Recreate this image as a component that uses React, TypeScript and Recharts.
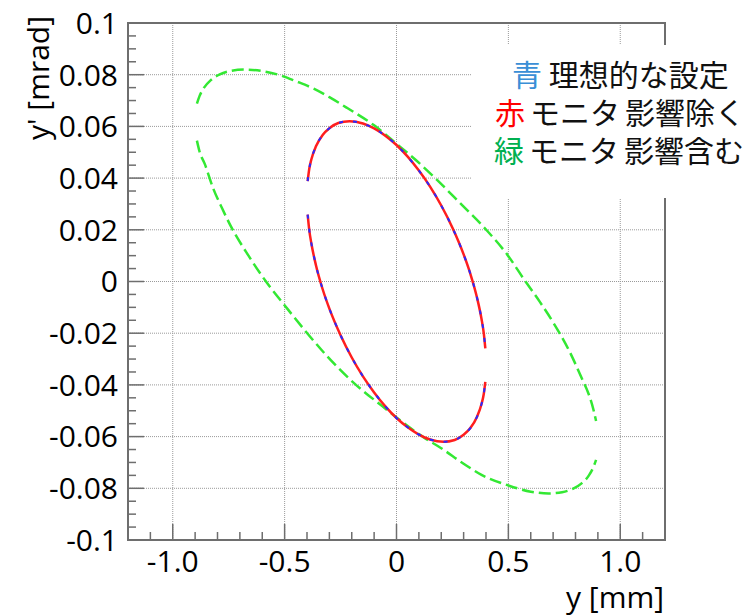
import { LineChart, Line, XAxis, YAxis, CartesianGrid, ReferenceArea } from 'recharts'

// 青: ideal setting, 赤: monitor effect removed (they overlap), 緑: monitor effect included
const redUpperX = [-0.397, -0.39, -0.38, -0.36, -0.33, -0.3, -0.26, -0.21, -0.15, -0.1, -0.05, 0, 0.05, 0.1, 0.15, 0.2, 0.25, 0.3, 0.33, 0.36, 0.38, 0.39, 0.397]
const redUpperY = [0.0388, 0.0435, 0.0474, 0.0523, 0.0567, 0.0593, 0.0613, 0.062, 0.0611, 0.0592, 0.0564, 0.0528, 0.0483, 0.0429, 0.0367, 0.0294, 0.0208, 0.0105, 0.003, -0.0063, -0.0145, -0.02, -0.0259]
const redLowerX = [-0.397, -0.39, -0.38, -0.36, -0.33, -0.3, -0.25, -0.2, -0.15, -0.1, -0.05, 0, 0.05, 0.1, 0.15, 0.21, 0.26, 0.3, 0.33, 0.36, 0.38, 0.39, 0.397]
const redLowerY = [0.0259, 0.02, 0.0145, 0.0063, -0.003, -0.0105, -0.0208, -0.0294, -0.0367, -0.0429, -0.0483, -0.0528, -0.0564, -0.0592, -0.0611, -0.062, -0.0613, -0.0593, -0.0567, -0.0523, -0.0474, -0.0435, -0.0388]
const blueUpperX = [-0.397, -0.39, -0.38, -0.36, -0.33, -0.3, -0.26, -0.21, -0.15, -0.1, -0.05, 0, 0.05, 0.1, 0.15, 0.2, 0.25, 0.3, 0.33, 0.36, 0.38, 0.39, 0.397]
const blueUpperY = [0.0388, 0.0435, 0.0474, 0.0523, 0.0567, 0.0593, 0.0613, 0.062, 0.0611, 0.0592, 0.0564, 0.0528, 0.0483, 0.0429, 0.0367, 0.0294, 0.0208, 0.0105, 0.003, -0.0063, -0.0145, -0.02, -0.0259]
const blueLowerX = [-0.397, -0.39, -0.38, -0.36, -0.33, -0.3, -0.25, -0.2, -0.15, -0.1, -0.05, 0, 0.05, 0.1, 0.15, 0.21, 0.26, 0.3, 0.33, 0.36, 0.38, 0.39, 0.397]
const blueLowerY = [0.0259, 0.02, 0.0145, 0.0063, -0.003, -0.0105, -0.0208, -0.0294, -0.0367, -0.0429, -0.0483, -0.0528, -0.0564, -0.0592, -0.0611, -0.062, -0.0613, -0.0593, -0.0567, -0.0523, -0.0474, -0.0435, -0.0388]
const greenUpperX = [-0.892, -0.88, -0.86, -0.83, -0.79, -0.74, -0.68, -0.6, -0.52, -0.45, -0.37, -0.3, -0.22, -0.1, 0.0, 0.09, 0.18, 0.29, 0.4, 0.5, 0.57, 0.64, 0.7, 0.77, 0.83, 0.86, 0.88, 0.892]
const greenUpperY = [0.0688, 0.0718, 0.075, 0.0779, 0.0801, 0.0815, 0.082, 0.0814, 0.0798, 0.0775, 0.0746, 0.0713, 0.0671, 0.0604, 0.0533, 0.0467, 0.0394, 0.0298, 0.0201, 0.0098, 0.0008, -0.0078, -0.0158, -0.0265, -0.0378, -0.0438, -0.0495, -0.054]
const greenLowerX = [-0.892, -0.88, -0.857, -0.82, -0.78, -0.74, -0.66, -0.58, -0.49, -0.4, -0.31, -0.19, -0.07, 0.0, 0.12, 0.2, 0.3, 0.38, 0.5, 0.6, 0.68, 0.74, 0.79, 0.83, 0.86, 0.88, 0.892]
const greenLowerY = [0.0545, 0.0502, 0.0455, 0.0362, 0.0284, 0.0213, 0.0098, -0.0004, -0.0103, -0.0199, -0.0289, -0.0393, -0.0478, -0.0526, -0.0602, -0.0645, -0.0705, -0.0748, -0.0789, -0.0813, -0.082, -0.0815, -0.0801, -0.0779, -0.075, -0.0718, -0.069]

const xMajorTicks = [-1.0, -0.5, 0, 0.5, 1.0]
const xTickLabels = ['-1.0', '-0.5', '0', '0.5', '1.0']
const xMinorTicks = [-1.1, -1.0, -0.9, -0.8, -0.7, -0.6, -0.5, -0.4, -0.3, -0.2, -0.1, 0, 0.1, 0.2, 0.3, 0.4, 0.5, 0.6, 0.7, 0.8, 0.9, 1.0, 1.1]
const yMajorTicks = [-0.1, -0.08, -0.06, -0.04, -0.02, 0, 0.02, 0.04, 0.06, 0.08, 0.1]
const yTickLabels = ['-0.1', '-0.08', '-0.06', '-0.04', '-0.02', '0', '0.02', '0.04', '0.06', '0.08', '0.1']
const yMinorTicks = [
  -0.1, -0.095, -0.09, -0.085, -0.08, -0.075, -0.07, -0.065, -0.06, -0.055, -0.05, -0.045, -0.04, -0.035, -0.03, -0.025, -0.02, -0.015, -0.01, -0.005,
  0, 0.005, 0.01, 0.015, 0.02, 0.025, 0.03, 0.035, 0.04, 0.045, 0.05, 0.055, 0.06, 0.065, 0.07, 0.075, 0.08, 0.085, 0.09, 0.095, 0.1,
]

const pts = (xs: number[], ys: number[]) => xs.map((x, i) => ({ x, y: ys[i] }))

const tickFont = '"Open Sans", Lato, sans-serif'
const axisColor = '#6e6e6e'

function YTick(props: any) {
  const { x, y, payload } = props
  const idx = yMajorTicks.findIndex((t) => Math.abs(t - payload.value) < 1e-9)
  const major = idx >= 0
  const edge = Math.abs(Math.abs(payload.value) - 0.1) < 1e-9
  return (
    <g>
      {!edge && <line x1={x} x2={x + (major ? 16 : 8)} y1={y} y2={y} stroke={axisColor} strokeWidth={1.5} />}
      {major && (
        <text x={x - 10} y={y} dy="0.36em" textAnchor="end" fontSize={30} fontFamily={tickFont} fill="#000">
          {yTickLabels[idx]}
        </text>
      )}
    </g>
  )
}

function XTick(props: any) {
  const { x, y, payload } = props
  const idx = xMajorTicks.findIndex((t) => Math.abs(t - payload.value) < 1e-9)
  const major = idx >= 0
  return (
    <g>
      <line x1={x} x2={x} y1={y} y2={y - (major ? 16 : 8)} stroke={axisColor} strokeWidth={1.5} />
      {major && (
        <text x={x} y={y + 21} dy="0.36em" textAnchor="middle" fontSize={30} fontFamily={tickFont} fill="#000">
          {xTickLabels[idx]}
        </text>
      )}
    </g>
  )
}

const legendFont = '"Noto Sans CJK JP", "Noto Sans", sans-serif'

export default function App() {
  return (
    <div style={{ position: 'absolute', left: 0, top: 0, width: 752, height: 615, background: '#fff' }}>
      <LineChart width={752} height={615} margin={{ top: 23, right: 87, bottom: 0, left: 0 }}>
        <CartesianGrid stroke="#9a9a9a" strokeDasharray="1 1" horizontalValues={yMajorTicks} verticalValues={xMajorTicks} />
        <XAxis
          type="number"
          dataKey="x"
          domain={[-1.2, 1.2]}
          ticks={xMinorTicks}
          interval={0}
          height={75}
          tickSize={0}
          tickMargin={0}
          tickLine={false}
          tick={<XTick />}
          axisLine={{ stroke: axisColor, strokeWidth: 2 }}
          allowDataOverflow
        />
        <YAxis
          type="number"
          dataKey="y"
          domain={[-0.1, 0.1]}
          ticks={yMinorTicks}
          interval={0}
          width={128}
          tickSize={0}
          tickMargin={0}
          tickLine={false}
          tick={<YTick />}
          axisLine={{ stroke: axisColor, strokeWidth: 2 }}
          allowDataOverflow
        />
        <ReferenceArea x1={-1.2} x2={1.2} y1={-0.1} y2={0.1} fill="none" stroke={axisColor} strokeWidth={2} />
        <Line data={pts(greenUpperX, greenUpperY)} dataKey="y" type="monotone" stroke="#33e833" strokeWidth={2.5} strokeDasharray="12 5" dot={false} activeDot={false} isAnimationActive={false} />
        <Line data={pts(greenLowerX, greenLowerY)} dataKey="y" type="monotone" stroke="#33e833" strokeWidth={2.5} strokeDasharray="12 5" dot={false} activeDot={false} isAnimationActive={false} />
        <Line data={pts(redUpperX, redUpperY)} dataKey="y" type="monotone" stroke="#ff1e1e" strokeWidth={2.5} dot={false} activeDot={false} isAnimationActive={false} />
        <Line data={pts(redLowerX, redLowerY)} dataKey="y" type="monotone" stroke="#ff1e1e" strokeWidth={2.5} dot={false} activeDot={false} isAnimationActive={false} />
        <Line data={pts(blueUpperX, blueUpperY)} dataKey="y" type="monotone" stroke="#2a2aff" strokeWidth={2} strokeDasharray="4 10" dot={false} activeDot={false} isAnimationActive={false} />
        <Line data={pts(blueLowerX, blueLowerY)} dataKey="y" type="monotone" stroke="#2a2aff" strokeWidth={2} strokeDasharray="4 10" dot={false} activeDot={false} isAnimationActive={false} />
      </LineChart>

      <div
        style={{
          position: 'absolute',
          left: 472,
          top: 45,
          width: 280,
          height: 153,
          background: '#fff',
          fontFamily: legendFont,
          fontSize: 30,
          lineHeight: '38px',
          color: '#111',
          paddingTop: 9,
          boxSizing: 'border-box',
          whiteSpace: 'nowrap',
          overflow: 'hidden',
        }}
      >
        <div style={{ paddingLeft: 40, height: 38 }}>
          <span style={{ color: '#3a8fd6' }}>青</span> 理想的な設定
        </div>
        <div style={{ paddingLeft: 23, height: 38 }}>
          <span style={{ color: '#ff0000', marginRight: 5 }}>赤</span>モニタ<span style={{ marginLeft: 5 }}>影響除く</span>
        </div>
        <div style={{ paddingLeft: 22, height: 38 }}>
          <span style={{ color: '#00b050', marginRight: 5 }}>緑</span>モニタ<span style={{ marginLeft: 5 }}>影響含む</span>
        </div>
      </div>

      <div
        style={{
          position: 'absolute',
          left: 38,
          top: 78,
          transform: 'translate(-50%, -50%) rotate(-90deg)',
          fontFamily: tickFont,
          fontSize: 30,
          lineHeight: 1,
          whiteSpace: 'nowrap',
          color: '#000',
        }}
      >
        y' [mrad]
      </div>
      <div
        style={{
          position: 'absolute',
          right: 752 - 664,
          top: 582,
          fontFamily: tickFont,
          fontSize: 30,
          lineHeight: 1,
          whiteSpace: 'nowrap',
          color: '#000',
        }}
      >
        y [mm]
      </div>
    </div>
  )
}
